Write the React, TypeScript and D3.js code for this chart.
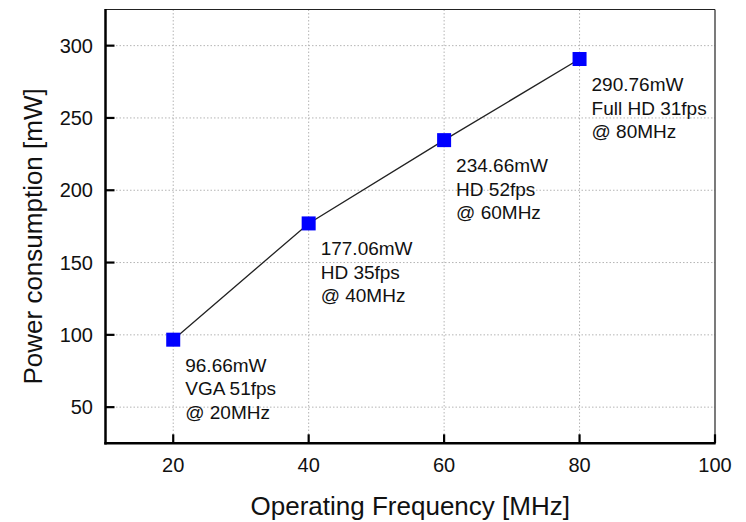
import React from 'react';
import * as d3 from 'd3';

// measured points: frequency [MHz] vs power [mW]
const freqs = [20, 40, 60, 80];
const power = [96.66, 177.06, 234.66, 290.76];
const notes = [
  ['96.66mW', 'VGA 51fps', '@ 20MHz'],
  ['177.06mW', 'HD 35fps', '@ 40MHz'],
  ['234.66mW', 'HD 52fps', '@ 60MHz'],
  ['290.76mW', 'Full HD 31fps', '@ 80MHz'],
];
const xTicks = [20, 40, 60, 80, 100];
const yTicks = [50, 100, 150, 200, 250, 300];

const W = 746, H = 522;
const m = { left: 105.5, right: 715, top: 9.5, bottom: 443.3 };
const font = 'Liberation Sans, Arial, sans-serif';

export default function App() {
  const x = d3.scaleLinear().domain([10, 100]).range([m.left, m.right]);
  const y = d3.scaleLinear().domain([25, 325]).range([m.bottom, m.top]);

  const line = d3.line<number>()
    .x((d, i) => x(freqs[i]))
    .y(d => y(d));

  const sq = 14;

  return (
    <svg width={W} height={H} style={{ position: 'absolute', left: 0, top: 0, background: '#fff' }}>
      {/* grid */}
      <g stroke="#b4b4b4" strokeWidth={1} strokeDasharray="1.5,2">
        {xTicks.filter(t => t < 100).map(t => (
          <line key={'gx' + t} x1={x(t)} x2={x(t)} y1={m.top} y2={m.bottom} />
        ))}
        {yTicks.map(t => (
          <line key={'gy' + t} x1={m.left} x2={m.right} y1={y(t)} y2={y(t)} />
        ))}
      </g>

      {/* frame */}
      <line x1={m.left} x2={m.right} y1={m.top} y2={m.top} stroke="#222" strokeWidth={1.2} />
      <line x1={m.right} x2={m.right} y1={m.top} y2={m.bottom} stroke="#222" strokeWidth={1.2} />
      <line x1={m.left} x2={m.left} y1={m.top - 0.6} y2={m.bottom + 1.2} stroke="#000" strokeWidth={2.5} />
      <line x1={m.left - 1.2} x2={m.right + 0.6} y1={m.bottom} y2={m.bottom} stroke="#000" strokeWidth={2.5} />

      {/* ticks */}
      <g stroke="#000" strokeWidth={2.2}>
        {xTicks.map(t => (
          <line key={'tx' + t} x1={x(t)} x2={x(t)} y1={m.bottom} y2={m.bottom - 9} />
        ))}
        {yTicks.map(t => (
          <line key={'ty' + t} x1={m.left} x2={m.left + 9} y1={y(t)} y2={y(t)} />
        ))}
      </g>

      {/* tick labels */}
      <g fontFamily={font} fontSize={20} fill="#111">
        {xTicks.map(t => (
          <text key={'lx' + t} x={x(t)} y={472} textAnchor="middle">{t}</text>
        ))}
        {yTicks.map(t => (
          <text key={'ly' + t} x={93} y={y(t) + 7} textAnchor="end">{t}</text>
        ))}
      </g>

      {/* axis titles */}
      <text x={(m.left + m.right) / 2} y={515} textAnchor="middle" fontFamily={font} fontSize={26} fill="#111">
        Operating Frequency [MHz]
      </text>
      <text transform={`translate(42,${(m.top + m.bottom) / 2 + 10}) rotate(-90)`} textAnchor="middle"
        fontFamily={font} fontSize={26} fill="#111">
        Power consumption [mW]
      </text>

      {/* series */}
      <path d={line(power) || ''} fill="none" stroke="#222" strokeWidth={1.3} />
      {power.map((p, i) => (
        <rect key={'pt' + i} x={x(freqs[i]) - sq / 2} y={y(p) - sq / 2} width={sq} height={sq} fill="#0000ff" />
      ))}

      {/* annotations */}
      <g fontFamily={font} fontSize={19} fill="#111">
        {notes.map((lines, i) => (
          <text key={'n' + i} x={x(freqs[i]) + 12} y={y(power[i]) + 32}>
            {lines.map((s, j) => (
              <tspan key={j} x={x(freqs[i]) + 12} dy={j === 0 ? 0 : 23.5}>{s}</tspan>
            ))}
          </text>
        ))}
      </g>
    </svg>
  );
}
